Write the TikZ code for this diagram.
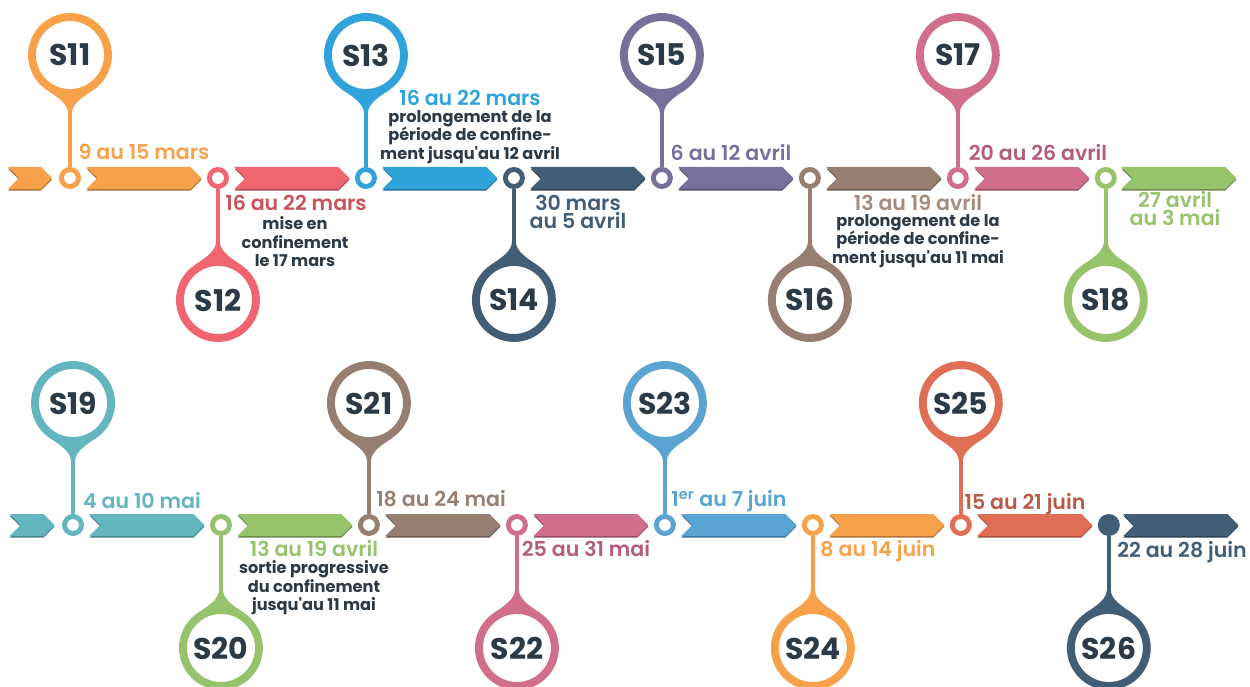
\documentclass[tikz,border=0pt]{standalone}
\usepackage{fontspec}
\setmainfont{Poppins}
\newfontfamily\semifont{Poppins SemiBold}
\usetikzlibrary{positioning, shapes.symbols, calc}

\definecolor{ink}{HTML}{2B3A46}
\definecolor{sOrange}{HTML}{F7A24A}
\definecolor{sRed}{HTML}{EF6570}
\definecolor{sRedT}{HTML}{C9525C}
\definecolor{sBlue}{HTML}{2FA3DA}
\definecolor{sSlate}{HTML}{425D76}
\definecolor{sPurple}{HTML}{76709A}
\definecolor{sBrown}{HTML}{967E70}
\definecolor{sBrownT}{HTML}{A38C7E}
\definecolor{sPink}{HTML}{D06E8B}
\definecolor{sPinkT}{HTML}{B45C7B}
\definecolor{sGreen}{HTML}{96C36B}
\definecolor{sTeal}{HTML}{63B6BF}
\definecolor{sLblue}{HTML}{5AA4D1}
\definecolor{sCoral}{HTML}{E06F55}
\definecolor{sCoralT}{HTML}{B95A48}

% neck between a week circle and its stem
\newcommand{\flare}[3]{%
  \fill[#2] ($(#1.center)+(#3-33:42)$)
    .. controls +(#3+57:12) and +(#3+180:9) .. ($(#1.center)+(#3:58)+(#3-90:2)$)
    -- ($(#1.center)+(#3:58)+(#3+90:2)$)
    .. controls +(#3+180:9) and +(#3-57:12) .. ($(#1.center)+(#3+33:42)$) -- cycle;}

\begin{document}
\begin{tikzpicture}[
    x=0.02cm, y=0.02cm,
    node distance=2.96cm,
    on grid,
    ring/.style={circle, draw=#1, line width=2.8pt, fill=white, minimum size=0.34cm, inner sep=0pt},
    week/.style={circle, draw=#1, line width=4.5pt, fill=white, minimum size=1.52cm, inner sep=0pt,
                 font=\fontsize{17}{18}\selectfont\bfseries, text=ink},
    chev/.style={signal, signal to=east, signal from=west, fill=#1, draw=none,
                 minimum width=2.3cm, minimum height=0.44cm, inner sep=0pt,
                 preaction={fill=#1!72!black, transform canvas={yshift=-0.9pt}}},
    stem/.style={draw=#1, line width=2.2pt},
    date/.style={text=#1, font=\fontsize{11.7}{10.6}\selectfont\semifont, anchor=base, align=center},
    note/.style={text=ink, font=\fontsize{9.2}{10.5}\selectfont\bfseries, align=center}
]
   \useasboundingbox (0,0) rectangle (1250,686);

   % Rings on the first line
   \node[ring=sOrange] (r11) at (70,508) {};
   \node[ring=sRed] (r12) [right=of r11] {};
   \node[ring=sBlue] (r13) [right=of r12] {};
   \node[ring=sSlate] (r14) [right=of r13] {};
   \node[ring=sPurple] (r15) [right=of r14] {};
   \node[ring=sBrown] (r16) [right=of r15] {};
   \node[ring=sPink] (r17) [right=of r16] {};
   \node[ring=sGreen] (r18) [right=of r17] {};

   % Rings on the second line
   \node[ring=sTeal] (r19) at (73,161) {};
   \node[ring=sGreen] (r20) [right=of r19] {};
   \node[ring=sBrown] (r21) [right=of r20] {};
   \node[ring=sPink] (r22) [right=of r21] {};
   \node[ring=sLblue] (r23) [right=of r22] {};
   \node[ring=sOrange] (r24) [right=of r23] {};
   \node[ring=sCoral] (r25) [right=of r24] {};
   \node[ring=sSlate, fill=sSlate] (r26) [right=of r25] {};

   % Chevrons
   \node[chev=sOrange, minimum width=0.88cm] (a10) [left=0.8cm of r11] {};
   \node[chev=sOrange] (a11) [right=1.48cm of r11] {};
   \node[chev=sRed] (a12) [right=1.48cm of r12] {};
   \node[chev=sBlue] (a13) [right=1.48cm of r13] {};
   \node[chev=sSlate] (a14) [right=1.48cm of r14] {};
   \node[chev=sPurple] (a15) [right=1.48cm of r15] {};
   \node[chev=sBrown] (a16) [right=1.48cm of r16] {};
   \node[chev=sPink] (a17) [right=1.48cm of r17] {};
   \node[chev=sGreen] (a18) [right=1.46cm of r18] {};
   \node[chev=sTeal, minimum width=0.9cm] (a19x) [left=0.82cm of r19] {};
   \node[chev=sTeal] (a19) [right=1.48cm of r19] {};
   \node[chev=sGreen] (a20) [right=1.48cm of r20] {};
   \node[chev=sBrown] (a21) [right=1.48cm of r21] {};
   \node[chev=sPink] (a22) [right=1.48cm of r22] {};
   \node[chev=sLblue] (a23) [right=1.48cm of r23] {};
   \node[chev=sOrange] (a24) [right=1.48cm of r24] {};
   \node[chev=sCoral] (a25) [right=1.48cm of r25] {};
   \node[chev=sSlate] (a26) [right=1.44cm of r26] {};

   % Weeks
   \node[week=sOrange] (s11) [above=2.46cm of r11] {S11};
   \node[week=sRed] (s12) [below=2.44cm of r12] {S12};
   \node[week=sBlue] (s13) [above=2.46cm of r13] {S13};
   \node[week=sSlate] (s14) [below=2.44cm of r14] {S14};
   \node[week=sPurple] (s15) [above=2.46cm of r15] {S15};
   \node[week=sBrown] (s16) [below=2.44cm of r16] {S16};
   \node[week=sPink] (s17) [above=2.46cm of r17] {S17};
   \node[week=sGreen] (s18) [below=2.44cm of r18] {S18};
   \node[week=sTeal] (s19) [above=2.44cm of r19] {S19};
   \node[week=sGreen] (s20) [below=2.46cm of r20] {S20};
   \node[week=sBrown] (s21) [above=2.44cm of r21] {S21};
   \node[week=sPink] (s22) [below=2.46cm of r22] {S22};
   \node[week=sLblue] (s23) [above=2.44cm of r23] {S23};
   \node[week=sOrange] (s24) [below=2.46cm of r24] {S24};
   \node[week=sCoral] (s25) [above=2.44cm of r25] {S25};
   \node[week=sSlate] (s26) [below=2.46cm of r26] {S26};

   % Stems
   \path
   (r11) edge[stem=sOrange] (s11)
   (r12) edge[stem=sRed] (s12)
   (r13) edge[stem=sBlue] (s13)
   (r14) edge[stem=sSlate] (s14)
   (r15) edge[stem=sPurple] (s15)
   (r16) edge[stem=sBrown] (s16)
   (r17) edge[stem=sPink] (s17)
   (r18) edge[stem=sGreen] (s18)
   (r19) edge[stem=sTeal] (s19)
   (r20) edge[stem=sGreen] (s20)
   (r21) edge[stem=sBrown] (s21)
   (r22) edge[stem=sPink] (s22)
   (r23) edge[stem=sLblue] (s23)
   (r24) edge[stem=sOrange] (s24)
   (r25) edge[stem=sCoral] (s25)
   (r26) edge[stem=sSlate] (s26);

   \flare{s11}{sOrange}{-90} \flare{s12}{sRed}{90}
   \flare{s13}{sBlue}{-90}   \flare{s14}{sSlate}{90}
   \flare{s15}{sPurple}{-90} \flare{s16}{sBrown}{90}
   \flare{s17}{sPink}{-90}   \flare{s18}{sGreen}{90}
   \flare{s19}{sTeal}{-90}   \flare{s20}{sGreen}{90}
   \flare{s21}{sBrown}{-90}  \flare{s22}{sPink}{90}
   \flare{s23}{sLblue}{-90}  \flare{s24}{sOrange}{90}
   \flare{s25}{sCoral}{-90}  \flare{s26}{sSlate}{90}

   % Dates
   \node[date=sOrange] (t11) at (144,526) {9 au 15 mars};
   \node[date=sRedT] (t12) at (296,475) {16 au 22 mars};
   \node[date=sBlue] (t13) at (470,580) {16 au 22 mars};
   \node[date=sSlate] (t14) at (578,457) {30 mars\\au 5 avril};
   \node[date=sPurple] (t15) at (731,525) {6 au 12 avril};
   \node[date=sBrownT] (t16) at (918,475) {13 au 19 avril};
   \node[date=sPinkT] (t17) at (1038,525) {20 au 26 avril};
   \node[date=sGreen] (t18) at (1175,460) {27 avril\\au 3 mai};
   \node[date=sTeal] (t19) at (142,177) {4 au 10 mai};
   \node[date=sGreen] (t20) at (314,129) {13 au 19 avril};
   \node[date=sBrown] (t21) at (441,179) {18 au 24 mai};
   \node[date=sPinkT] (t22) at (586,129) {25 au 31 mai};
   \node[date=sLblue] (t23) at (729,179) {1\textsuperscript{er} au 7 juin};
   \node[date=sOrange] (t24) at (878,129) {8 au 14 juin};
   \node[date=sCoralT] (t25) at (1025,176) {15 au 21 juin};
   \node[date=sSlate] (t26) at (1182,128) {22 au 28 juin};

   % Notes
   \node[note] (n12) at (295,444) {mise en\\confinement\\le 17 mars};
   \node[note] (n13) at (470,549) {prolongement de la\\période de confine-\\ment jusqu\textquotesingle au 12 avril};
   \node[note] (n16) at (918,445) {prolongement de la\\période de confine-\\ment jusqu\textquotesingle au 11 mai};
   \node[note] (n20) at (314,98) {sortie progressive\\du confinement\\jusqu\textquotesingle au 11 mai};
\end{tikzpicture}
\end{document}
